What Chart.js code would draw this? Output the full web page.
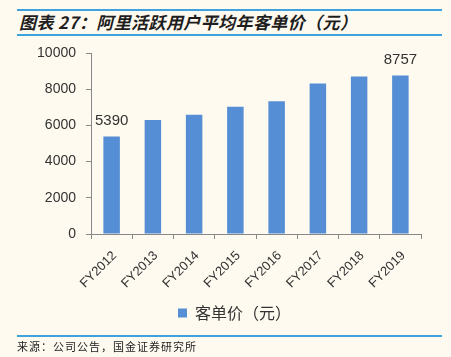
<!DOCTYPE html>
<html><head><meta charset="utf-8">
<script src="https://cdn.jsdelivr.net/npm/chart.js@4.4.0/dist/chart.umd.min.js"></script>
<style>
html,body{margin:0;padding:0;background:#FEFAF0;}
#wrap{position:relative;width:451px;height:357px;overflow:hidden;background:#FEFAF0;}
.hl{position:absolute;left:17px;width:425px;height:2px;background:#3DA2DE;}
#title{position:absolute;left:19px;top:11px;font:italic bold 17px "Noto Sans CJK SC";color:#1e1e1e;white-space:nowrap;line-height:22px;letter-spacing:0.4px;}
#src{position:absolute;left:17px;top:339px;font:11px "Noto Sans CJK SC";color:#222;white-space:nowrap;letter-spacing:1px;line-height:15px;}
#cv{position:absolute;left:0;top:0;}
</style></head>
<body><div id="wrap">
<div class="hl" style="top:9px"></div>
<div id="title">图表 27：阿里活跃用户平均年客单价（元）</div>
<div class="hl" style="top:34px"></div>
<canvas id="cv" width="451" height="357"></canvas>
<div class="hl" style="top:335px"></div>
<div id="src">来源：公司公告，国金证券研究所</div>
</div>
<script>
const categories = ['FY2012','FY2013','FY2014','FY2015','FY2016','FY2017','FY2018','FY2019'];
const values = [5390, 6300, 6590, 7030, 7330, 8320, 8700, 8757];
const yTicks = [0, 2000, 4000, 6000, 8000, 10000];
const seriesName = '客单价（元）';
const labelledIdx = [0, 7];

const valueLabels = {
  id: 'valueLabels',
  afterDatasetsDraw(chart) {
    const ctx = chart.ctx;
    const meta = chart.getDatasetMeta(0);
    ctx.save();
    ctx.font = '15px "Liberation Sans"';
    ctx.fillStyle = '#333';
    ctx.textAlign = 'center';
    ctx.textBaseline = 'alphabetic';
    labelledIdx.forEach(i => {
      const el = meta.data[i];
      ctx.fillText(String(values[i]), el.x, el.y - 11);
    });
    ctx.restore();
  }
};

const legendShift = {
  id: 'legendShift',
  afterLayout(chart) {
    if (chart.legend) { chart.legend.left += 7; chart.legend.right += 7; }
  }
};

new Chart(document.getElementById('cv'), {
  type: 'bar',
  data: {
    labels: categories,
    datasets: [{
      label: seriesName,
      data: values,
      backgroundColor: '#558ED5',
      borderWidth: 0,
      categoryPercentage: 1,
      barPercentage: 0.4
    }]
  },
  options: {
    responsive: false,
    animation: false,
    layout: { padding: { top: 53, right: 30, left: 34, bottom: 26 } },
    plugins: {
      legend: {
        position: 'bottom',
        labels: {
          boxWidth: 9, boxHeight: 9, padding: 8,
          color: '#333',
          font: { size: 16, family: '"Noto Sans CJK SC"' }
        }
      },
      tooltip: { enabled: false }
    },
    scales: {
      y: {
        min: 0, max: 10000,
        afterBuildTicks: s => { s.ticks = yTicks.map(v => ({ value: v })); },
        afterFit: s => { s.width = 57; },
        ticks: { color: '#333', padding: 10, callback: v => String(v), font: { size: 14, family: '"Liberation Sans"' } },
        grid: { drawOnChartArea: false, tickLength: 5, color: '#888' },
        border: { color: '#888' }
      },
      x: {
        afterFit: s => { s.height = 63; },
        ticks: { color: '#333', minRotation: 45, maxRotation: 45, padding: 9, labelOffset: 3, font: { size: 13, family: '"Liberation Sans"' } },
        grid: { drawOnChartArea: false, tickLength: 5, color: '#888', offset: true },
        border: { color: '#888' }
      }
    }
  },
  plugins: [valueLabels, legendShift]
});
</script>
</body></html>
